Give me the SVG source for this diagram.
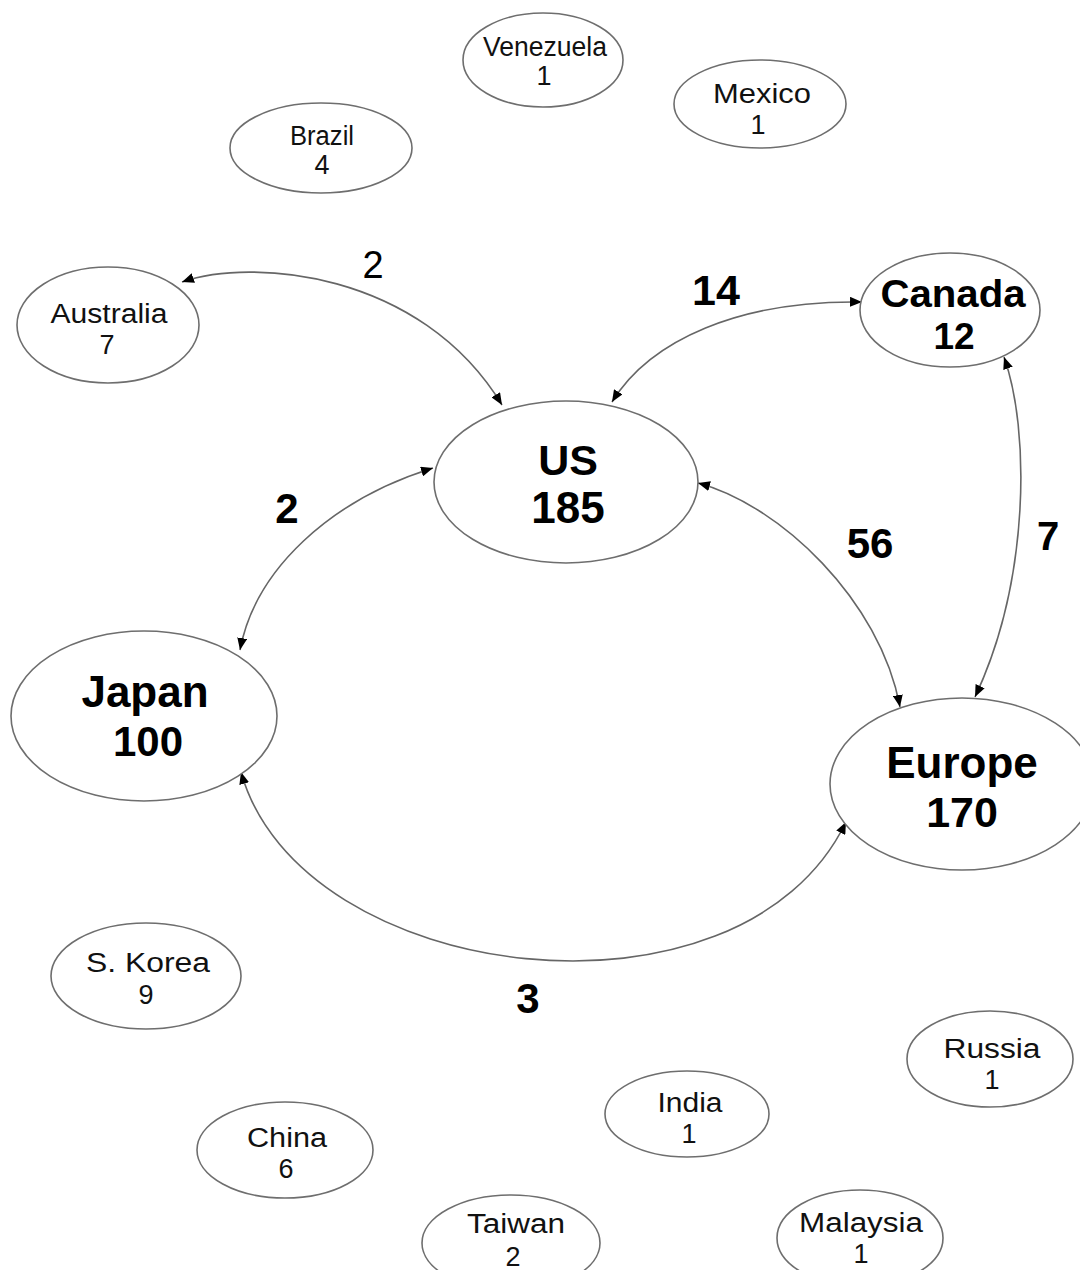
<svg xmlns="http://www.w3.org/2000/svg" width="1080" height="1270" viewBox="0 0 1080 1270">
<defs>
<marker id="ah" viewBox="0 0 12 10" refX="12" refY="5" markerWidth="12" markerHeight="10" markerUnits="userSpaceOnUse" orient="auto-start-reverse">
<path d="M0,0 L12,5 L0,10 z" fill="#000"/>
</marker>
<style>
.n{fill:#fff;stroke:#6e6e6e;stroke-width:1.6}
.c{fill:none;stroke:#666;stroke-width:1.6;marker-start:url(#ah);marker-end:url(#ah)}
.s{font-family:"Liberation Sans",Arial,sans-serif;font-size:27px;text-anchor:middle;fill:#111}
.b{font-family:"Liberation Sans",Arial,sans-serif;font-weight:bold;text-anchor:middle;fill:#000}
.e{font-family:"Liberation Sans",Arial,sans-serif;text-anchor:middle;fill:#000}
</style>
</defs>
<rect width="1080" height="1270" fill="#fff"/>
<g id="connectors">
<path class="c" d="M502,405 C420,270 250,258 182,282"/>
<path class="c" d="M612,402 C650,340 740,300 862,302"/>
<path class="c" d="M1004,357 C1030,430 1030,580 975,697"/>
<path class="c" d="M240,650 C255,570 330,500 433,468"/>
<path class="c" d="M698,483 C780,505 880,600 900,707"/>
<path class="c" d="M241,772 C300,985 740,1040 846,822"/>
<text class="e" x="373" y="278" font-size="38">2</text>
<text class="b" x="716" y="305" font-size="43">14</text>
<text class="b" x="1048" y="550" font-size="40">7</text>
<text class="b" x="287" y="523" font-size="42">2</text>
<text class="b" x="870" y="558" font-size="42">56</text>
<text class="b" x="528" y="1013" font-size="42">3</text>
</g>
<g id="venezuela"><ellipse class="n" cx="543" cy="60" rx="80" ry="47"/><text class="s" x="545" y="56" font-size="24" textLength="124" lengthAdjust="spacingAndGlyphs">Venezuela</text><text class="s" x="544" y="85" font-size="25">1</text></g>
<g id="mexico"><ellipse class="n" cx="760" cy="104" rx="86" ry="44"/><text class="s" x="762" y="103" textLength="98" lengthAdjust="spacingAndGlyphs">Mexico</text><text class="s" x="758" y="134">1</text></g>
<g id="brazil"><ellipse class="n" cx="321" cy="148" rx="91" ry="45"/><text class="s" x="322" y="145" font-size="23" textLength="64" lengthAdjust="spacingAndGlyphs">Brazil</text><text class="s" x="322" y="174" font-size="24">4</text></g>
<g id="australia"><ellipse class="n" cx="108" cy="325" rx="91" ry="58"/><text class="s" x="109" y="323" textLength="117" lengthAdjust="spacingAndGlyphs">Australia</text><text class="s" x="107" y="354">7</text></g>
<g id="canada"><ellipse class="n" cx="950" cy="310" rx="90" ry="57"/><text class="b" x="953" y="307" font-size="38" textLength="145" lengthAdjust="spacingAndGlyphs">Canada</text><text class="b" x="954" y="349" font-size="37">12</text></g>
<g id="us"><ellipse class="n" cx="566" cy="482" rx="132" ry="81"/><text class="b" x="568" y="475" font-size="43">US</text><text class="b" x="568" y="523" font-size="44">185</text></g>
<g id="japan"><ellipse class="n" cx="144" cy="716" rx="133" ry="85"/><text class="b" x="145" y="707" font-size="44">Japan</text><text class="b" x="148" y="756" font-size="42">100</text></g>
<g id="europe"><ellipse class="n" cx="962" cy="784" rx="132" ry="86"/><text class="b" x="962" y="778" font-size="44">Europe</text><text class="b" x="962" y="827" font-size="43">170</text></g>
<g id="skorea"><ellipse class="n" cx="146" cy="976" rx="95" ry="53"/><text class="s" x="148" y="972" textLength="124" lengthAdjust="spacingAndGlyphs">S. Korea</text><text class="s" x="146" y="1004">9</text></g>
<g id="russia"><ellipse class="n" cx="990" cy="1059" rx="83" ry="48"/><text class="s" x="992" y="1058" textLength="97" lengthAdjust="spacingAndGlyphs">Russia</text><text class="s" x="992" y="1089">1</text></g>
<g id="india"><ellipse class="n" cx="687" cy="1114" rx="82" ry="43"/><text class="s" x="690" y="1112" textLength="65" lengthAdjust="spacingAndGlyphs">India</text><text class="s" x="689" y="1143">1</text></g>
<g id="china"><ellipse class="n" cx="285" cy="1150" rx="88" ry="48"/><text class="s" x="287" y="1147" textLength="80" lengthAdjust="spacingAndGlyphs">China</text><text class="s" x="286" y="1178">6</text></g>
<g id="taiwan"><ellipse class="n" cx="511" cy="1243" rx="89" ry="48"/><text class="s" x="516" y="1233" textLength="98" lengthAdjust="spacingAndGlyphs">Taiwan</text><text class="s" x="513" y="1266">2</text></g>
<g id="malaysia"><ellipse class="n" cx="860" cy="1238" rx="83" ry="48"/><text class="s" x="861" y="1232" textLength="124" lengthAdjust="spacingAndGlyphs">Malaysia</text><text class="s" x="861" y="1263">1</text></g>
</svg>
